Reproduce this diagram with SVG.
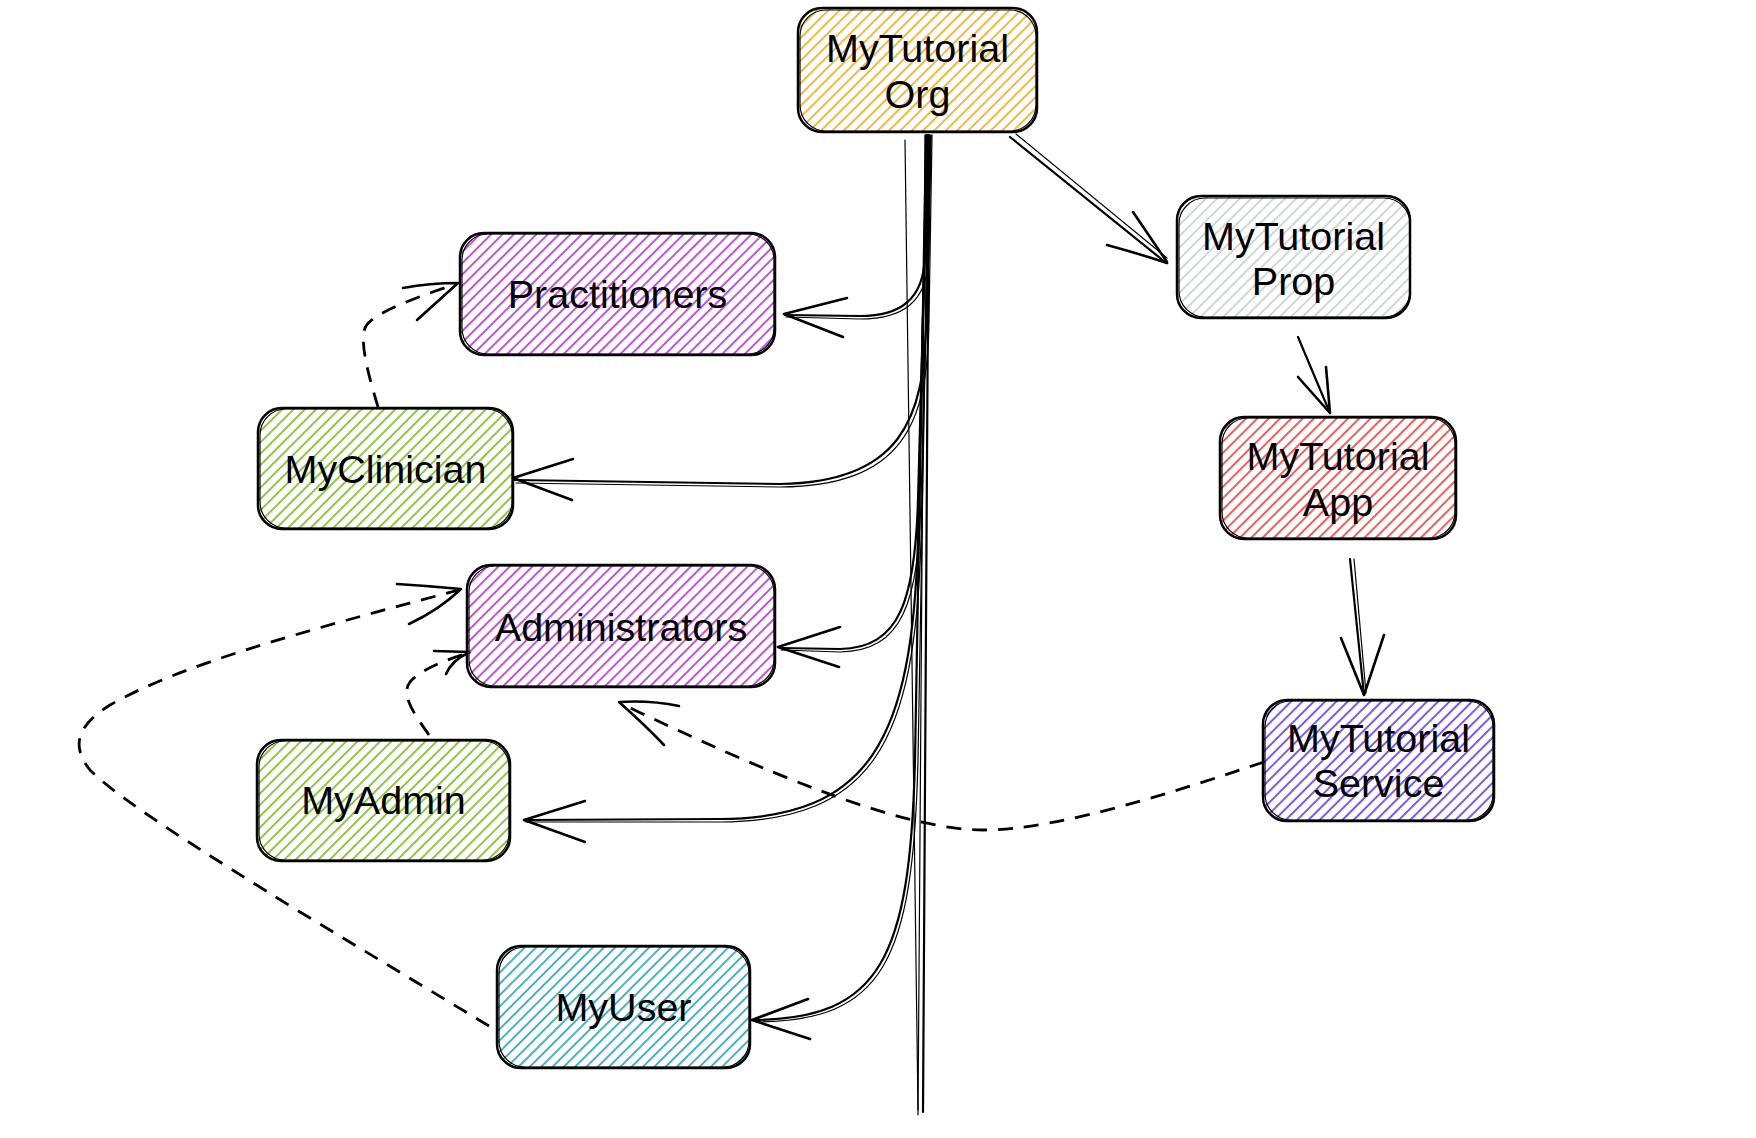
<svg xmlns="http://www.w3.org/2000/svg" width="1756" height="1138" viewBox="0 0 1756 1138">
<defs>
<pattern id="h-orange" width="8" height="8" patternUnits="userSpaceOnUse" patternTransform="rotate(45)"><line x1="1" y1="0" x2="1" y2="8" stroke="#f2b53a" stroke-width="1.9"/></pattern>
<pattern id="h-purple" width="8" height="8" patternUnits="userSpaceOnUse" patternTransform="rotate(45)"><line x1="1" y1="0" x2="1" y2="8" stroke="#be4bdb" stroke-width="1.9"/></pattern>
<pattern id="h-gray" width="8" height="8" patternUnits="userSpaceOnUse" patternTransform="rotate(45)"><line x1="1" y1="0" x2="1" y2="8" stroke="#ced4da" stroke-width="1.9"/></pattern>
<pattern id="h-green" width="8" height="8" patternUnits="userSpaceOnUse" patternTransform="rotate(45)"><line x1="1" y1="0" x2="1" y2="8" stroke="#8ac43a" stroke-width="1.9"/></pattern>
<pattern id="h-red" width="8" height="8" patternUnits="userSpaceOnUse" patternTransform="rotate(45)"><line x1="1" y1="0" x2="1" y2="8" stroke="#f05656" stroke-width="1.9"/></pattern>
<pattern id="h-violet" width="8" height="8" patternUnits="userSpaceOnUse" patternTransform="rotate(45)"><line x1="1" y1="0" x2="1" y2="8" stroke="#7950f2" stroke-width="1.9"/></pattern>
<pattern id="h-cyan" width="8" height="8" patternUnits="userSpaceOnUse" patternTransform="rotate(45)"><line x1="1" y1="0" x2="1" y2="8" stroke="#3fadc4" stroke-width="1.9"/></pattern>
</defs>
<style>
.box{stroke:#000;stroke-width:2.5;}
.box2{fill:none;stroke:#000;stroke-width:1.2;}
.lbl{font-family:"Liberation Sans",Arial,Helvetica,sans-serif;font-size:39.5px;fill:#000;text-anchor:middle;}
.ln{fill:none;stroke:#000;stroke-width:2.2;stroke-linecap:round;stroke-linejoin:round;}
.ln2{fill:none;stroke:#000;stroke-width:1.2;stroke-linecap:round;}
.dash{fill:none;stroke:#000;stroke-width:2.8;stroke-dasharray:15 11;stroke-linecap:butt;}
.head{fill:none;stroke:#000;stroke-width:2.6;stroke-linecap:round;stroke-linejoin:round;}
</style>
<rect width="1756" height="1138" fill="#fff"/>

<g id="connectors">
<path class="ln2" d="M 925 135 L 918 1115"/>
<path class="ln" d="M 929 135 L 923 1112"/>
<path class="ln2" d="M 905 140 Q 912 600 918 1110"/>
<path class="ln" d="M 927 135 L 925 255 C 924 300 900 316 860 316 L 785 315"/>
<path class="ln2" d="M 931 135 L 929 255 C 928 303 902 319 860 319 L 786 317"/>
<path class="head" d="M 847 298 L 784 314 L 843 337"/>
<path class="ln" d="M 928 135 L 926 320 C 925 420 900 482 780 484 L 515 480"/>
<path class="ln2" d="M 932 135 L 929 320 C 928 424 903 486 780 487 L 516 483"/>
<path class="head" d="M 573 459 L 513 478 L 572 500"/>
<path class="ln" d="M 928 135 L 918 500 C 915 600 900 648 840 649 L 780 648"/>
<path class="ln2" d="M 931 135 L 921 500 C 918 603 903 651 840 652 L 781 650"/>
<path class="head" d="M 840 627 L 778 647 L 839 667"/>
<path class="ln" d="M 927 135 L 918 540 C 912 740 870 818 720 819 L 525 820"/>
<path class="ln2" d="M 930 135 L 921 540 C 915 743 873 821 720 822 L 526 822"/>
<path class="head" d="M 585 801 L 524 820 L 585 842"/>
<path class="ln" d="M 926 135 L 915 760 C 910 960 880 1018 755 1020"/>
<path class="ln2" d="M 929 135 L 918 760 C 913 963 883 1021 756 1022"/>
<path class="head" d="M 808 999 L 752 1020 L 810 1039"/>
<path class="ln" d="M 1010 137 L 1165 262"/>
<path class="ln2" d="M 1016 134 L 1167 258"/>
<path class="head" d="M 1107 245 Q 1140 254 1167 263 M 1133 212 Q 1152 240 1167 262"/>
<path class="ln" d="M 1298 337 L 1330 413"/>
<path class="head" d="M 1298 377 L 1330 413 L 1326 367"/>
<path class="ln" d="M 1350 559 L 1364 695"/>
<path class="ln2" d="M 1354 559 L 1366 693"/>
<path class="head" d="M 1341 638 L 1364 695 L 1384 635"/>
<path class="dash" d="M 1264 762 C 1180 790 1060 830 983 830 C 900 830 760 770 622 704"/>
<path class="head" d="M 679 706 Q 650 700 619 702 Q 645 725 664 745"/>
<path class="dash" d="M 378 407 C 370 380 358 340 366 326 C 375 312 420 296 456 284"/>
<path class="head" d="M 403 288 Q 430 283 458 283 L 417 320"/>
<path class="dash" d="M 429 735 C 415 715 400 695 410 682 C 420 670 445 660 468 653"/>
<path class="head" d="M 434 651 L 470 652 Q 452 660 446 674"/>
<path class="dash" d="M 489 1026 L 300 912 C 200 850 120 800 90 770 C 70 745 78 725 110 705 C 180 665 300 632 459 590"/>
<path class="head" d="M 397 584 Q 430 586 461 589 Q 439 610 409 624"/>
</g>

<g id="node-org">
<rect class="box" x="798" y="8" width="239" height="124" rx="24" fill="url(#h-orange)"/>
<rect class="box2" x="800" y="10" width="236" height="121" rx="26"/>
<text class="lbl" x="917.5" y="62">MyTutorial</text>
<text class="lbl" x="917.5" y="108">Org</text>
</g>
<g id="node-practitioners">
<rect class="box" x="460" y="233" width="315" height="122" rx="24" fill="url(#h-purple)"/>
<rect class="box2" x="462" y="234" width="312" height="120" rx="26"/>
<text class="lbl" x="617.5" y="308">Practitioners</text>
</g>
<g id="node-prop">
<rect class="box" x="1177" y="196" width="233" height="122" rx="24" fill="url(#h-gray)"/>
<rect class="box2" x="1179" y="198" width="231" height="119" rx="26"/>
<text class="lbl" x="1293.5" y="250">MyTutorial</text>
<text class="lbl" x="1293.5" y="295">Prop</text>
</g>
<g id="node-myclinician">
<rect class="box" x="258" y="408" width="255" height="121" rx="24" fill="url(#h-green)"/>
<rect class="box2" x="260" y="409" width="252" height="119" rx="26"/>
<text class="lbl" x="385.5" y="483">MyClinician</text>
</g>
<g id="node-administrators">
<rect class="box" x="467" y="565" width="308" height="122" rx="24" fill="url(#h-purple)"/>
<rect class="box2" x="469" y="566" width="305" height="120" rx="26"/>
<text class="lbl" x="621" y="641">Administrators</text>
</g>
<g id="node-app">
<rect class="box" x="1220" y="417" width="236" height="122" rx="24" fill="url(#h-red)"/>
<rect class="box2" x="1222" y="418" width="233" height="120" rx="26"/>
<text class="lbl" x="1338" y="470">MyTutorial</text>
<text class="lbl" x="1338" y="516">App</text>
</g>
<g id="node-service">
<rect class="box" x="1263" y="700" width="231" height="121" rx="24" fill="url(#h-violet)"/>
<rect class="box2" x="1265" y="701" width="228" height="119" rx="26"/>
<text class="lbl" x="1378.5" y="752">MyTutorial</text>
<text class="lbl" x="1378.5" y="797">Service</text>
</g>
<g id="node-myadmin">
<rect class="box" x="257" y="740" width="253" height="121" rx="24" fill="url(#h-green)"/>
<rect class="box2" x="259" y="741" width="250" height="119" rx="26"/>
<text class="lbl" x="383.5" y="814">MyAdmin</text>
</g>
<g id="node-myuser">
<rect class="box" x="497" y="946" width="253" height="122" rx="24" fill="url(#h-cyan)"/>
<rect class="box2" x="499" y="947" width="250" height="120" rx="26"/>
<text class="lbl" x="623.5" y="1021">MyUser</text>
</g>
</svg>
